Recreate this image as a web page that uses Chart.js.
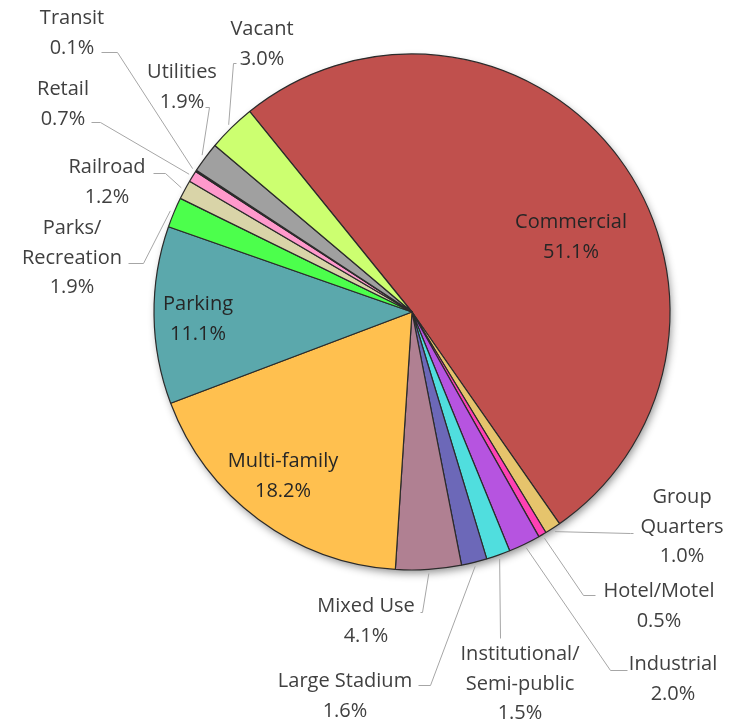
<!DOCTYPE html>
<html><head><meta charset="utf-8">
<script src="https://cdn.jsdelivr.net/npm/chart.js@4.4.1/dist/chart.umd.min.js"></script>
<style>html,body{margin:0;padding:0;background:#fff}#wrap{width:746px;height:725px;position:relative}</style>
</head><body><div id="wrap"><canvas id="c" width="746" height="725"></canvas></div>
<script>
// ---- data ----
const categories = ["Commercial","Group Quarters","Hotel/Motel","Industrial","Institutional/Semi-public","Large Stadium","Mixed Use","Multi-family","Parking","Parks/Recreation","Railroad","Retail","Transit","Utilities","Vacant"];
const shares = [51.1,1.0,0.5,2.0,1.5,1.6,4.1,18.2,11.1,1.9,1.2,0.7,0.1,1.9,3.0];
const labelNames = [["Commercial"],["Group","Quarters"],["Hotel/Motel"],["Industrial"],["Institutional/","Semi-public"],["Large Stadium"],["Mixed Use"],["Multi-family"],["Parking"],["Parks/","Recreation"],["Railroad"],["Retail"],["Transit"],["Utilities"],["Vacant"]];

// ---- styles ----
const sliceColors = ["#C0504D","#E6C46C","#FF40B4","#B654E0","#50DEDE","#6C68B8","#B08092","#FFC04F","#5BA8AC","#4CFF4C","#D9D4A8","#FF99CC","#262626","#A0A0A0","#CCFF70"];

// ---- label layout (text centre of first line, leader start & elbow) ----
const labelLayout = {
  "Commercial": {x:571,y:221,inside:true},
  "Multi-family": {x:283,y:460,inside:true},
  "Parking": {x:198,y:303,inside:true},
  "Group Quarters": {x:682,y:496,start:[633,533],elbow:[630,533]},
  "Hotel/Motel": {x:659,y:590,start:[595,595],elbow:[583,595]},
  "Industrial": {x:673,y:663,start:[627,670],elbow:[610,670]},
  "Institutional/Semi-public": {x:520,y:653,start:[500,638],elbow:[500,638]},
  "Large Stadium": {x:345,y:680,start:[418,685],elbow:[430,685]},
  "Mixed Use": {x:366,y:605,start:[420,612],elbow:[422,612]},
  "Parks/Recreation": {x:72,y:227,start:[128,263],elbow:[143,263]},
  "Railroad": {x:107,y:166,start:[153,173],elbow:[165,173]},
  "Retail": {x:63,y:88,start:[91,122],elbow:[100,122]},
  "Transit": {x:72,y:17,start:[101,52],elbow:[117,52]},
  "Utilities": {x:182,y:71,start:[205,107],elbow:[209,107]},
  "Vacant": {x:262,y:28,start:[236,63],elbow:[233,63]}
};
const LINE_H = 29.5;
const FONT = '20px "Open Sans"';

const shadowPlugin = {
  id:'pieShadow',
  beforeDatasetsDraw(chart){
    const arc = chart.getDatasetMeta(0).data[0];
    if(!arc) return;
    const {x,y,outerRadius} = arc.getProps(['x','y','outerRadius'],true);
    const ctx = chart.ctx;
    ctx.save();
    ctx.shadowColor = 'rgba(0,0,0,0.45)';
    ctx.shadowBlur = 9;
    ctx.shadowOffsetX = 2;
    ctx.shadowOffsetY = 4;
    ctx.fillStyle = '#ffffff';
    ctx.beginPath();
    ctx.arc(x,y,outerRadius-1,0,Math.PI*2);
    ctx.fill();
    ctx.restore();
  }
};

const labelPlugin = {
  id:'pieLabels',
  afterDatasetsDraw(chart){
    const ctx = chart.ctx;
    const meta = chart.getDatasetMeta(0);
    ctx.save();
    ctx.font = FONT;
    ctx.textAlign = 'center';
    ctx.textBaseline = 'alphabetic';
    meta.data.forEach((arc,i)=>{
      const name = categories[i];
      const L = labelLayout[name];
      const p = arc.getProps(['x','y','startAngle','endAngle','outerRadius'],true);
      const mid = (p.startAngle+p.endAngle)/2;
      if(!L.inside){
        const ex = p.x + Math.cos(mid)*(p.outerRadius+4);
        const ey = p.y + Math.sin(mid)*(p.outerRadius+4);
        ctx.strokeStyle = '#A6A6A6';
        ctx.lineWidth = 1;
        ctx.beginPath();
        ctx.moveTo(L.start[0]+0.5,L.start[1]+0.5);
        ctx.lineTo(L.elbow[0]+0.5,L.elbow[1]+0.5);
        ctx.lineTo(ex,ey);
        ctx.stroke();
      }
      const lines = labelNames[i].concat([shares[i].toFixed(1)+'%']);
      ctx.fillStyle = L.inside ? '#262626' : '#404040';
      lines.forEach((t,k)=>{
        ctx.fillText(t, L.x, L.y + k*LINE_H + 7);
      });
    });
    ctx.restore();
  }
};

new Chart(document.getElementById('c'),{
  type:'pie',
  data:{
    labels:categories,
    datasets:[{
      data:shares,
      backgroundColor:sliceColors,
      borderColor:'#2b2b2b',
      borderWidth:1.2,
      radius:258,
      hoverOffset:0
    }]
  },
  options:{
    responsive:false,
    animation:false,
    rotation:-39,
    layout:{padding:{left:78,right:0,top:0,bottom:101}},
    plugins:{legend:{display:false},tooltip:{enabled:false}},
    events:[]
  },
  plugins:[shadowPlugin,labelPlugin]
});
</script>
</body></html>
